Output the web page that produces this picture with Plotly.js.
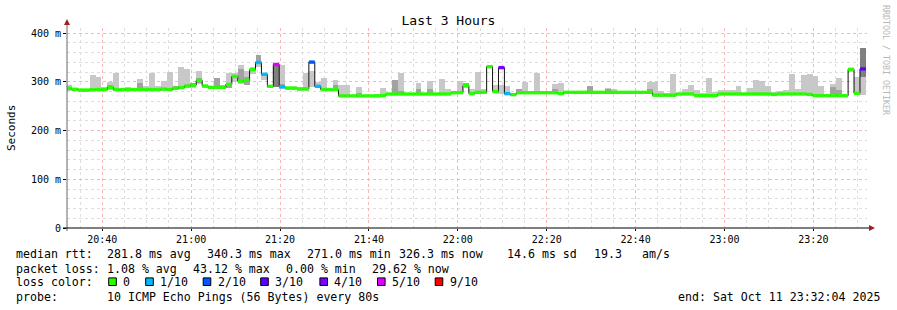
<!DOCTYPE html>
<html><head><meta charset="utf-8">
<script src="https://cdn.plot.ly/plotly-3.0.1.min.js"></script>
<style>html,body{margin:0;padding:0;background:#fff}#chart{width:897px;height:310px}</style>
</head><body><div id="chart"></div>
<script>
// ---- time frame ----
const START = Date.UTC(2025, 9, 11, 20, 32, 4);
const END = Date.UTC(2025, 9, 11, 23, 32, 4);
const STEP_SEC = 80;
const FIRST_OFFSET_SEC = -15;

// ---- median rtt per 80 s step (ms) ----
const median = [
  286.6, 284.6, 283, 283, 283.6, 284, 284, 288.6, 284, 284,
  284, 284, 284, 284, 284, 284, 285, 284, 286.6, 288,
  291.3, 293.3, 302.9, 291.3, 288.6, 289, 288.6, 294.5, 311, 301.5,
  303, 324.8, 339.5, 315.3, 290.6, 335.4, 289.6, 287.2, 287.2, 285.5,
  285.5, 340.3, 290.6, 284, 284, 284, 271, 271, 271, 271,
  271, 271, 271, 271.5, 274.9, 274.9, 274.9, 274.9, 274.9, 274.9,
  274.9, 274.9, 274.9, 274.9, 274.9, 277.6, 277.6, 292, 275.6, 278.3,
  278.3, 331, 279.7, 329, 275.6, 273.5, 277.6, 277.6, 277.6, 277.6,
  277.6, 277.6, 277.6, 275.6, 278.3, 278.3, 278.3, 278.3, 278.3, 278.3,
  278.3, 278.3, 278.3, 278.3, 278.3, 278.3, 278.3, 278.3, 278.3, 272.5,
  272.5, 272.5, 272.5, 274.9, 274.9, 274.9, 271.5, 271.5, 271.5, 271.5,
  274.9, 274.9, 274.9, 274.9, 274.9, 274.9, 274.9, 274.9, 274.9, 274,
  274.9, 274.9, 274.9, 274.9, 274.9, 274, 271.5, 271.5, 271.5, 271.5,
  271.5, 271.5, 325.5, 276.3, 326.3
];
// ---- lost pings (of 10) per step ----
const loss = [
  0,0,0,0,0,0,0,0,0,0, 0,0,0,0,0,0,0,0,0,0, 0,0,0,0,0,0,0,0,0,0,
  0,0,1,1,0,5,1,0,0,0, 0,2,1,0,0,0,0,0,0,0, 0,0,0,0,0,0,0,0,0,0,
  0,0,0,0,0,0,0,0,0,0, 0,0,0,4,1,0,0,0,0,0, 0,0,0,0,0,0,0,0,0,0,
  0,0,0,0,0,0,0,0,0,0, 0,0,0,0,0,0,0,0,0,0, 0,0,0,0,0,0,0,0,0,0,
  0,0,0,0,0,0,0,0,0,0, 0,0,0,0,3
];
// ---- smoke (spread of the pings): outer band ----
const smokeLo = [
  282, 281, 280, 280, 281, 281, 281, 283, 281, 281,
  281, 281, 281, 281, 281, 281, 282, 281, 283, 285,
  288, 288, 296, 288, 285, 285, 285, 287, 300, 296,
  293, 315, 330, 303.6, 287, 290, 286, 284, 284, 282,
  282, 290, 288, 281, 281, 281, 268, 268, 268, 268,
  268, 268, 268, 268, 272, 273, 272, 272, 272, 272,
  272, 272, 272, 272, 272, 275, 275, 288, 272, 275,
  275, 328, 276, 275, 272, 270, 275, 275, 275, 275,
  275, 275, 275, 273, 275, 275, 275, 275, 275, 275,
  275, 275, 275, 275, 275, 275, 275, 275, 275, 269,
  269, 269, 269, 272, 272, 272, 268, 268, 268, 268,
  272, 272, 272, 272, 272, 272, 272, 272, 272, 271,
  272, 272, 272, 272, 272, 271, 268, 268, 268, 268,
  268, 268, 319, 272.8, 273
];
const smokeHi = [
  293.3, 288, 285, 285, 313.8, 310.4, 288.6, 300, 318.6, 286,
  288.6, 286, 305.6, 291.3, 318.6, 291.3, 301.5, 320.7, 290, 331,
  326, 298, 323, 293, 290, 308.4, 293, 318, 318.6, 334.4,
  322, 331, 355, 316, 293, 338, 334.4, 289, 289, 288,
  318.6, 322.7, 300, 307.7, 286, 303.6, 293.3, 293.3, 273, 289,
  273, 273, 274.9, 286.5, 277, 303, 318.6, 277, 277, 298,
  277, 301.5, 277, 305.6, 285, 280, 301.5, 298, 284.5, 320,
  284.5, 333, 293.3, 293.3, 291.3, 276, 284.5, 299.5, 280, 318.6,
  280, 280, 296, 298, 280, 280, 280, 280, 291.3, 280,
  280, 286.6, 284.5, 281.6, 280, 280, 280, 280, 300, 299.5,
  281.7, 276.3, 316, 276, 285, 293.3, 283, 276, 308.4, 280,
  283, 283, 283, 292, 277, 288, 303.6, 301.5, 292, 278,
  281.6, 283, 316.6, 284.5, 313.8, 316.6, 311.8, 291.3, 273, 295.4,
  307.7, 273, 327, 310.5, 310
];
// ---- smoke: inner (darker) band, listed by step ----
const darkStep = [1, 7, 12, 16, 18, 19, 21, 22, 25, 27, 29, 30, 32, 36, 45, 49, 55, 56, 59, 61, 67, 76, 82, 88, 91, 98, 129, 130];
const darkLo  = [284, 286, 284, 283, 284, 286, 290, 297, 286, 287, 297, 293, 339, 288, 282, 271, 273, 275, 277.6, 277.6, 292, 279.6, 278, 278, 279, 279.6, 273, 272];
const darkHi  = [288, 293, 296.8, 287, 291, 292, 297, 307, 308.4, 297, 327, 310, 355, 295, 293, 277.6, 303, 282, 285, 285, 298, 284.5, 285, 291.3, 286, 284.5, 290, 283];
// ---- smoke: darkest core band ----
const coreStep = [35, 134];
const coreLo = [290, 310];
const coreHi = [338, 370];

// ---- loss legend ----
const lossLevels = [0, 1, 2, 3, 4, 5, 9];
const lossLabels = ['0', '1/10', '2/10', '3/10', '4/10', '5/10', '9/10'];
const lossColors = ['#26ff00', '#00b8ff', '#0059ff', '#5e00ff', '#7e00ff', '#dd00ff', '#ff0000'];

// ---- y ticks ----
const yTickVals = [0, 100, 200, 300, 400];
const yTickText = ['0', '100 m', '200 m', '300 m', '400 m'];

// ---------------------------------------------------------------
const stepStart = median.map((_, j) => START + (FIRST_OFFSET_SEC + j * STEP_SEC) * 1000);
const stepEnd = stepStart.map(t => t + STEP_SEC * 1000);
const stepMid = stepStart.map(t => t + STEP_SEC * 500);
const W = STEP_SEC * 1000;

const traces = [];
traces.push({type: 'bar', x: stepMid, base: smokeLo, y: smokeHi.map((h, j) => h - smokeLo[j]),
  width: W, marker: {color: '#c8c8c8', line: {width: 0}}, hoverinfo: 'skip'});
traces.push({type: 'bar', x: darkStep.map(j => stepMid[j]), base: darkLo, y: darkHi.map((h, k) => h - darkLo[k]),
  width: W, marker: {color: '#a2a2a2', line: {width: 0}}, hoverinfo: 'skip'});
traces.push({type: 'bar', x: coreStep.map(j => stepMid[j]), base: coreLo, y: coreHi.map((h, k) => h - coreLo[k]),
  width: W, marker: {color: '#808080', line: {width: 0}}, hoverinfo: 'skip'});
// thin dark median line
traces.push({type: 'scatter', mode: 'lines', x: stepStart.concat([stepEnd[stepEnd.length - 1]]),
  y: median.concat([median[median.length - 1]]), line: {shape: 'hv', color: '#111', width: 1}, hoverinfo: 'skip'});
// loss-coloured median band
lossLevels.forEach((lv, k) => {
  const xs = [], ys = [];
  median.forEach((m, j) => { if (loss[j] === lv) { xs.push(stepStart[j], stepEnd[j], null); ys.push(m, m, null); } });
  if (xs.length) traces.push({type: 'scatter', mode: 'lines', x: xs, y: ys, connectgaps: false,
    line: {color: lossColors[k], width: 3.4}, hoverinfo: 'skip'});
});

// pixel -> paper helpers
const L = 67, T = 28, PW = 800, PH = 200;
const X = px => (px - L) / PW;
const Y = py => (T + PH - py) / PH;
const mono = 'DejaVu Sans Mono, monospace';

const annotations = [];
function txt(px, py, s, opts) {
  annotations.push(Object.assign({xref: 'paper', yref: 'paper', x: X(px), y: Y(py), text: s, showarrow: false,
    xanchor: 'left', yanchor: 'middle', borderpad: 0, borderwidth: 0,
    font: {family: mono, size: 11.6, color: '#000'}}, opts || {}));
}
// legend lines
[[16, 'median rtt:'], [107.3, '281.8 ms avg'], [207.3, '340.3 ms max'], [307.3, '271.0 ms min'],
 [399.3, '326.3 ms now'], [507.3, '14.6 ms sd'], [594, '19.3'], [642.3, 'am/s']].forEach(a => txt(a[0], 254, a[1]));
[[16, 'packet loss:'], [107.3, '1.08 % avg'], [193.3, '43.12 % max'], [286, '0.00 % min'], [371.7, '29.62 % now']]
  .forEach(a => txt(a[0], 268.5, a[1]));
txt(16, 282, 'loss color:');
const boxCx = [112.5, 149.5, 207, 264.5, 323.7, 381.3, 439];
const labX = [123.3, 160, 217.7, 275.3, 334.3, 392.3, 450];
const shapes = [];
lossLabels.forEach((lab, k) => {
  txt(labX[k], 282, lab);
  shapes.push({type: 'rect', xref: 'paper', yref: 'paper', x0: X(boxCx[k] - 3.8), x1: X(boxCx[k] + 3.8),
    y0: Y(285.5), y1: Y(277.9), fillcolor: lossColors[k], line: {color: '#000', width: 1}});
});
txt(16, 296.7, 'probe:');
txt(107.3, 296.7, '10 ICMP Echo Pings (56 Bytes) every 80s');
txt(678.3, 296.7, 'end: Sat Oct 11 23:32:04 2025');
// axis label & watermark
annotations.push({xref: 'paper', yref: 'paper', x: X(11), y: Y(128), text: 'Seconds', textangle: -90, showarrow: false,
  xanchor: 'center', yanchor: 'middle', font: {family: mono, size: 11, color: '#000'}});
annotations.push({xref: 'paper', yref: 'paper', x: X(886), y: Y(60), text: 'RRDTOOL / TOBI OETIKER', textangle: 90, showarrow: false,
  xanchor: 'center', yanchor: 'middle', font: {family: mono, size: 8.3, color: '#b8b8b8'}});

// axis lines and arrows
shapes.push({type: 'line', xref: 'paper', yref: 'paper', x0: X(67), x1: X(67), y0: Y(231), y1: Y(22), line: {color: '#666', width: 1}});
shapes.push({type: 'line', xref: 'paper', yref: 'paper', x0: X(63), x1: X(872), y0: Y(228), y1: Y(228), line: {color: '#000', width: 1}});
shapes.push({type: 'path', xref: 'paper', yref: 'paper',
  path: `M ${X(64)} ${Y(25)} L ${X(70)} ${Y(25)} L ${X(67)} ${Y(19)} Z`, fillcolor: '#a02020', line: {width: 0}});
shapes.push({type: 'path', xref: 'paper', yref: 'paper',
  path: `M ${X(869)} ${Y(225)} L ${X(869)} ${Y(231)} L ${X(875)} ${Y(228)} Z`, fillcolor: '#a02020', line: {width: 0}});

const layout = {
  width: 897, height: 310,
  margin: {l: L, r: 897 - L - PW, t: T, b: 310 - T - PH, pad: 0},
  paper_bgcolor: '#fff', plot_bgcolor: '#fff',
  showlegend: false, barmode: 'overlay', bargap: 0, hovermode: false,
  title: {text: 'Last 3 Hours', font: {family: mono, size: 13, color: '#000'},
    x: 0.5, xref: 'container', xanchor: 'center', y: 1 - 20 / 310, yref: 'container', yanchor: 'middle'},
  xaxis: {type: 'date', range: [START, END], tickformat: '%H:%M',
    tick0: Date.UTC(2025, 9, 11, 20, 0, 0), dtick: 1200000,
    showgrid: true, gridcolor: '#f4b8b8', griddash: 'dot', gridwidth: 1,
    minor: {tick0: Date.UTC(2025, 9, 11, 20, 0, 0), dtick: 300000, showgrid: true, gridcolor: '#dedede', griddash: 'dot', ticks: ''},
    zeroline: false, showline: false, ticks: 'outside', ticklen: 2, tickcolor: '#000',
    tickfont: {family: mono, size: 10, color: '#000'}, fixedrange: true},
  yaxis: {range: [0, PH / 0.4875], tickmode: 'array', tickvals: yTickVals, ticktext: yTickText,
    showgrid: true, gridcolor: '#f4b8b8', griddash: 'dot', gridwidth: 1,
    minor: {tickmode: 'linear', tick0: 0, dtick: 20, showgrid: true, gridcolor: '#dedede', griddash: 'dot', ticks: ''},
    zeroline: false, showline: false, ticks: 'outside', ticklen: 3, tickcolor: '#000',
    tickfont: {family: mono, size: 10, color: '#000'}, fixedrange: true},
  annotations: annotations,
  shapes: shapes
};
Plotly.newPlot('chart', traces, layout, {displayModeBar: false, staticPlot: true});
</script>
</body></html>
